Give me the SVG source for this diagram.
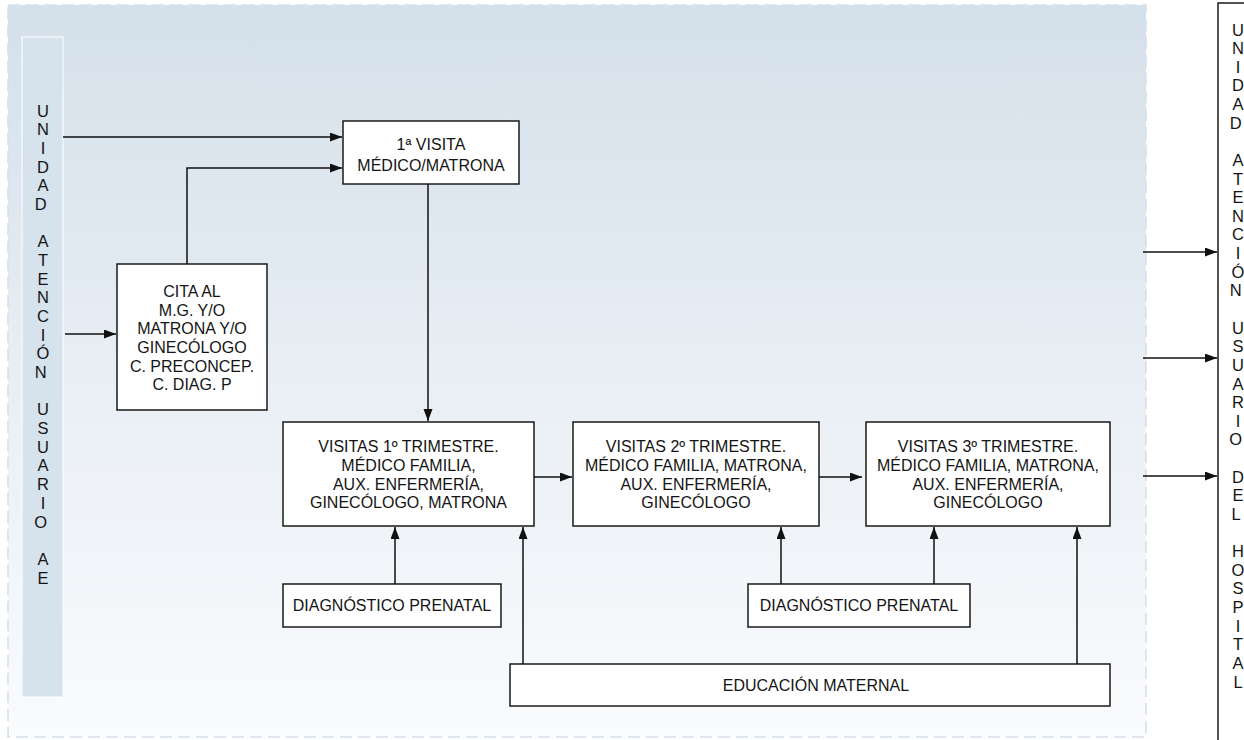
<svg xmlns="http://www.w3.org/2000/svg" width="1244" height="740" viewBox="0 0 1244 740">
<style>
.box{fill:#fff;stroke:#1a1a1a;stroke-width:1.5}
.t{font-family:"Liberation Sans",Arial,sans-serif;font-size:16.5px;fill:#141414;text-anchor:middle}
.col{font-family:"Liberation Sans",Arial,sans-serif;font-size:16.5px;fill:#141414;text-anchor:middle}
.ln{fill:none;stroke:#111;stroke-width:1.5}
</style>
<defs>
<linearGradient id="bg" x1="0" y1="0" x2="0" y2="1">
<stop offset="0" stop-color="#d4e0ea"/>
<stop offset="0.6" stop-color="#ecf1f6"/>
<stop offset="1" stop-color="#fafbfd"/>
</linearGradient>
<marker id="ah" markerUnits="userSpaceOnUse" markerWidth="14" markerHeight="10" refX="12" refY="4.5" orient="auto">
<path d="M0,0 L12,4.5 L0,9 Z" fill="#111"/>
</marker>
</defs>
<rect width="1244" height="740" fill="#fff"/>
<g id="panel">
<rect x="8" y="5" width="1138" height="732" fill="url(#bg)" stroke="#d3dfea" stroke-width="1.5" stroke-dasharray="12 6"/>
</g>
<g id="left-bar">
<rect x="22" y="37" width="41" height="660" fill="#d6e2ec" stroke="#ffffff" stroke-width="1"/>
<text class="col">
<tspan x="43" y="116.5">U</tspan><tspan x="43" y="135.2">N</tspan><tspan x="43" y="153.9">I</tspan><tspan x="43" y="172.5">D</tspan><tspan x="43" y="191.2">A</tspan><tspan x="43" y="209.9">D</tspan>
<tspan x="43" y="247.3">A</tspan><tspan x="43" y="265.9">T</tspan><tspan x="43" y="284.6">E</tspan><tspan x="43" y="303.3">N</tspan><tspan x="43" y="322">C</tspan><tspan x="43" y="340.7">I</tspan><tspan x="43" y="359.3">Ó</tspan><tspan x="43" y="378">N</tspan>
<tspan x="43" y="415.4">U</tspan><tspan x="43" y="434.1">S</tspan><tspan x="43" y="452.7">U</tspan><tspan x="43" y="471.4">A</tspan><tspan x="43" y="490.1">R</tspan><tspan x="43" y="508.8">I</tspan><tspan x="43" y="527.5">O</tspan>
<tspan x="43" y="564.8">A</tspan><tspan x="43" y="583.5">E</tspan>
</text>
</g>
<g id="right-box">
<rect x="1218" y="3" width="40" height="760" class="box"/>
<text class="col">
<tspan x="1238" y="35.5">U</tspan><tspan x="1238" y="54.1">N</tspan><tspan x="1238" y="72.8">I</tspan><tspan x="1238" y="91.4">D</tspan><tspan x="1238" y="110">A</tspan><tspan x="1238" y="128.7">D</tspan>
<tspan x="1238" y="165.9">A</tspan><tspan x="1238" y="184.5">T</tspan><tspan x="1238" y="203.2">E</tspan><tspan x="1238" y="221.8">N</tspan><tspan x="1238" y="240.4">C</tspan><tspan x="1238" y="259">I</tspan><tspan x="1238" y="277.7">Ó</tspan><tspan x="1238" y="296.3">N</tspan>
<tspan x="1238" y="333.6">U</tspan><tspan x="1238" y="352.2">S</tspan><tspan x="1238" y="370.8">U</tspan><tspan x="1238" y="389.5">A</tspan><tspan x="1238" y="408.1">R</tspan><tspan x="1238" y="426.7">I</tspan><tspan x="1238" y="445.4">O</tspan>
<tspan x="1238" y="482.6">D</tspan><tspan x="1238" y="501.3">E</tspan><tspan x="1238" y="519.9">L</tspan>
<tspan x="1238" y="557.1">H</tspan><tspan x="1238" y="575.8">O</tspan><tspan x="1238" y="594.4">S</tspan><tspan x="1238" y="613">P</tspan><tspan x="1238" y="631.7">I</tspan><tspan x="1238" y="650.3">T</tspan><tspan x="1238" y="668.9">A</tspan><tspan x="1238" y="687.6">L</tspan>
</text>
</g>
<g id="primera-visita">
<rect x="343" y="121" width="176" height="63" class="box"/>
<text class="t" transform="matrix(0.97,0,0,1,12.93,0)"><tspan x="431" y="150">1ª VISITA</tspan><tspan x="431" y="171">MÉDICO/MATRONA</tspan></text>
</g>
<g id="cita">
<rect x="117" y="264" width="150" height="146" class="box"/>
<text class="t" transform="matrix(0.97,0,0,1,5.76,0)"><tspan x="192" y="297">CITA AL</tspan><tspan x="192" y="315.7">M.G. Y/O</tspan><tspan x="192" y="334.3">MATRONA Y/O</tspan><tspan x="192" y="353">GINECÓLOGO</tspan><tspan x="192" y="371.7">C. PRECONCEP.</tspan><tspan x="192" y="390.3">C. DIAG. P</tspan></text>
</g>
<g id="trimestre1">
<rect x="283" y="422" width="251" height="104" class="box"/>
<text class="t" transform="matrix(0.97,0,0,1,12.255,0)"><tspan x="408.5" y="452.5">VISITAS 1º TRIMESTRE.</tspan><tspan x="408.5" y="471.2">MÉDICO FAMILIA,</tspan><tspan x="408.5" y="489.8">AUX. ENFERMERÍA,</tspan><tspan x="408.5" y="508.5">GINECÓLOGO, MATRONA</tspan></text>
</g>
<g id="trimestre2">
<rect x="573" y="422" width="246" height="104" class="box"/>
<text class="t" transform="matrix(0.97,0,0,1,20.88,0)"><tspan x="696" y="452.5">VISITAS 2º TRIMESTRE.</tspan><tspan x="696" y="471.2">MÉDICO FAMILIA, MATRONA,</tspan><tspan x="696" y="489.8">AUX. ENFERMERÍA,</tspan><tspan x="696" y="508.5">GINECÓLOGO</tspan></text>
</g>
<g id="trimestre3">
<rect x="866" y="422" width="244" height="104" class="box"/>
<text class="t" transform="matrix(0.97,0,0,1,29.64,0)"><tspan x="988" y="452.5">VISITAS 3º TRIMESTRE.</tspan><tspan x="988" y="471.2">MÉDICO FAMILIA, MATRONA,</tspan><tspan x="988" y="489.8">AUX. ENFERMERÍA,</tspan><tspan x="988" y="508.5">GINECÓLOGO</tspan></text>
</g>
<g id="diag1">
<rect x="283" y="584" width="218" height="43" class="box"/>
<text class="t" x="392" y="611.5" transform="matrix(0.97,0,0,1,11.76,0)">DIAGNÓSTICO PRENATAL</text>
</g>
<g id="diag2">
<rect x="748" y="584" width="222" height="43" class="box"/>
<text class="t" x="859" y="611.5" transform="matrix(0.97,0,0,1,25.77,0)">DIAGNÓSTICO PRENATAL</text>
</g>
<g id="educacion">
<rect x="510" y="664" width="600" height="42" class="box"/>
<text class="t" x="816" y="691.5" transform="matrix(0.97,0,0,1,24.48,0)">EDUCACIÓN MATERNAL</text>
</g>
<g id="connectors">
<line class="ln" x1="63" y1="137" x2="342" y2="137" marker-end="url(#ah)"/>
<polyline class="ln" points="187,264 187,168 342,168" marker-end="url(#ah)"/>
<line class="ln" x1="65" y1="334" x2="116" y2="334" marker-end="url(#ah)"/>
<line class="ln" x1="428" y1="184" x2="428" y2="421" marker-end="url(#ah)"/>
<line class="ln" x1="534" y1="477" x2="572" y2="477" marker-end="url(#ah)"/>
<line class="ln" x1="819" y1="477" x2="862" y2="477" marker-end="url(#ah)"/>
<line class="ln" x1="395" y1="584" x2="395" y2="527" marker-end="url(#ah)"/>
<line class="ln" x1="523" y1="664" x2="523" y2="527" marker-end="url(#ah)"/>
<line class="ln" x1="781" y1="584" x2="781" y2="527" marker-end="url(#ah)"/>
<line class="ln" x1="934" y1="584" x2="934" y2="527" marker-end="url(#ah)"/>
<line class="ln" x1="1077" y1="664" x2="1077" y2="527" marker-end="url(#ah)"/>
<line class="ln" x1="1143" y1="252" x2="1217" y2="252" marker-end="url(#ah)"/>
<line class="ln" x1="1143" y1="358" x2="1217" y2="358" marker-end="url(#ah)"/>
<line class="ln" x1="1143" y1="476" x2="1217" y2="476" marker-end="url(#ah)"/>
</g>
</svg>
